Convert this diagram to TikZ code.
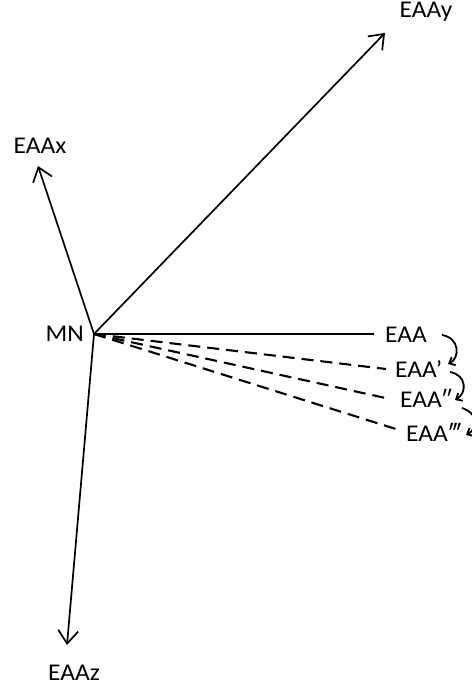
\documentclass[tikz,border=0pt]{standalone}
\usepackage{fontspec}
\setmainfont{Carlito}[FakeStretch=1.06]
\usetikzlibrary{arrows.meta}
\begin{document}
\begin{tikzpicture}[x=1pt,y=-1pt,
  lbl/.style={inner sep=0pt,font=\fontsize{24}{28}\selectfont},
  axis/.style={line width=1.7pt,-{Straight Barb[length=13pt,width=20pt,line width=1.7pt]}},
  solidln/.style={line width=1.7pt},
  dashln/.style={line width=2.1pt,dash pattern=on 12pt off 7pt},
  curv/.style={line width=1.8pt,-{Straight Barb[length=5pt,width=9pt,line width=1.8pt]}}]
\useasboundingbox (0,0) rectangle (471,687);
\coordinate (O) at (94,334);
\node[lbl,anchor=east] (MN) at (84,334) {MN};
% axes
\coordinate (ty) at (385,33);
\coordinate (tx) at (38,166);
\coordinate (tz) at (67,645);
\node[lbl] (EAAy) at (426,12) {EAAy};
\node[lbl] (EAAx) at (40,146) {EAAx};
\node[lbl] (EAAz) at (74,673) {EAAz};
\draw[axis] (O) -- (ty);
\draw[axis] (O) -- (tx);
\draw[axis] (O) -- (tz);
% EAA family
\node[lbl,anchor=west] (EAA) at (385,335) {EAA};
\node[lbl,anchor=west] (EAA1) at (395,369) {EAA’};
\node[lbl,anchor=west] (EAA2) at (400,398) {EAA″};
\node[lbl,anchor=west] (EAA3) at (406,432) {EAA‴};
\coordinate (e0) at (374,334);
\coordinate (e1) at (386,369);
\coordinate (e2) at (390,399);
\coordinate (e3) at (399,430);
\draw[solidln] (O) -- (e0);
\draw[dashln] (O) -- (e1);
\draw[dashln] (O) -- (e2);
\draw[dashln] (O) -- (e3);
% curved arrows
\coordinate (c0s) at (442,335);
\coordinate (c0e) at (448,364);
\coordinate (c1s) at (450,372);
\coordinate (c1e) at (455,400);
\coordinate (c2s) at (462,408);
\coordinate (c2e) at (466,435);
\draw[curv] (c0s) .. controls (460,338) and (460,358) .. (c0e);
\draw[curv] (c1s) .. controls (467,375) and (467,393) .. (c1e);
\draw[curv] (c2s) .. controls (478,413) and (479,428) .. (c2e);
\end{tikzpicture}
\end{document}
